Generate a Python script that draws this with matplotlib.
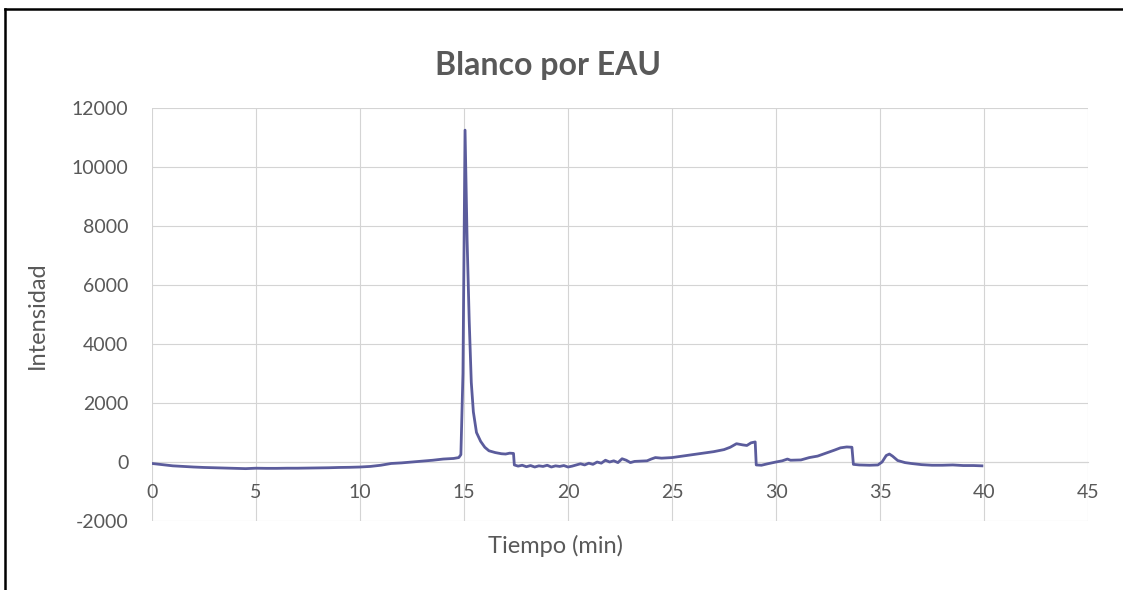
import matplotlib
matplotlib.use("Agg")
import matplotlib.pyplot as plt
from matplotlib.lines import Line2D

plt.rcParams['font.family'] = ['Lato', 'DejaVu Sans']

title = "Blanco por EAU"
x_label = "Tiempo (min)"
y_label = "Intensidad"
x_ticks = [0, 5, 10, 15, 20, 25, 30, 35, 40, 45]
y_ticks = [-2000, 0, 2000, 4000, 6000, 8000, 10000, 12000]

tiempo = [
    0.0, 0.5, 1.0, 1.5, 2.0, 2.5, 3.0, 3.5, 4.0, 4.5, 5.0, 5.5, 6.0, 6.5, 7.0,
    7.5, 8.0, 8.5, 9.0, 9.5, 10.0, 10.5, 11.0, 11.5, 12.0, 12.5, 13.0, 13.5,
    14.0, 14.5, 14.75, 14.85, 14.95, 15.05, 15.15, 15.25, 15.35, 15.45, 15.6,
    15.8, 16.0, 16.2, 16.5, 16.8, 17.0, 17.2, 17.38, 17.42, 17.6, 17.8, 18.0,
    18.2, 18.4, 18.6, 18.8, 19.0, 19.2, 19.4, 19.6, 19.8, 20.0, 20.2, 20.4,
    20.6, 20.8, 21.0, 21.2, 21.4, 21.6, 21.8, 22.0, 22.2, 22.4, 22.6, 22.8,
    23.0, 23.2, 23.5, 23.8, 24.0, 24.2, 24.5, 25.0, 25.5, 26.0, 26.5, 27.0,
    27.5, 27.8, 28.1, 28.4, 28.6, 28.8, 29.0, 29.05, 29.3, 29.6, 30.0, 30.3,
    30.55, 30.7, 31.2, 31.6, 32.0, 32.4, 32.8, 33.1, 33.4, 33.65, 33.72, 34.0,
    34.5, 34.9, 35.1, 35.3, 35.45, 35.6, 35.85, 36.2, 36.5, 37.0, 37.5, 38.0,
    38.5, 39.0, 39.5, 39.9,
]
intensidad = [
    -50, -90, -130, -150, -170, -185, -195, -205, -215, -225, -210, -215, -215,
    -210, -210, -205, -200, -195, -185, -180, -170, -150, -110, -50, -30, 0,
    30, 60, 100, 120, 150, 250, 3000, 11250, 7500, 4800, 2700, 1700, 1000,
    700, 500, 380, 320, 280, 270, 300, 290, -100, -140, -110, -160, -120,
    -170, -130, -150, -110, -170, -130, -150, -120, -170, -140, -100, -60,
    -100, -40, -80, 0, -40, 60, 0, 40, -20, 110, 60, -20, 20, 30, 40, 100,
    150, 130, 150, 200, 250, 300, 350, 420, 500, 620, 580, 560, 650, 680,
    -100, -110, -60, 0, 40, 100, 60, 70, 150, 200, 300, 400, 480, 510, 500,
    -80, -100, -110, -100, 0, 220, 270, 200, 50, -20, -50, -90, -110, -110,
    -100, -120, -120, -130,
]

text_color = '#595959'
grid_color = '#d4d4d4'
line_color = '#5b5c9c'

fig = plt.figure(figsize=(11.23, 5.90), dpi=100)
ax = fig.add_axes([152 / 1123, 1 - 521 / 590, (1088 - 152) / 1123, (521 - 108) / 590])

ax.plot(tiempo, intensidad, color=line_color, lw=2.0, solid_joinstyle='round', zorder=3)

ax.set_xlim(0, 45)
ax.set_ylim(-2000, 12000)
ax.set_xticks(x_ticks)
ax.set_yticks(y_ticks)
ax.set_xticklabels([str(v) for v in x_ticks])
ax.set_yticklabels([str(v) for v in y_ticks])
ax.grid(True, color=grid_color, lw=0.8, zorder=0)
ax.set_axisbelow(True)
ax.tick_params(axis='both', length=0, labelsize=14, labelcolor=text_color)
ax.tick_params(axis='x', pad=16)
ax.tick_params(axis='y', pad=17)

for s in ['top', 'right', 'left']:
    ax.spines[s].set_visible(False)
ax.spines['bottom'].set_position(('data', 0))
ax.spines['bottom'].set_color(grid_color)
ax.spines['bottom'].set_linewidth(0.8)

fig.text(548 / 1123, 1 - 65 / 590, title, ha='center', va='center',
         fontsize=23, fontweight='bold', color=text_color)
fig.text(37 / 1123, 1 - 315 / 590, y_label, ha='center', va='center',
         rotation=90, fontsize=17, color=text_color)
fig.text(556 / 1123, 1 - 546 / 590, x_label, ha='center', va='center',
         fontsize=17, color=text_color)

# chart frame (left and top edges visible)
fig.add_artist(Line2D([5 / 1123, 5 / 1123], [0, 1 - 9 / 590], transform=fig.transFigure,
                      color='black', lw=1.8))
fig.add_artist(Line2D([5 / 1123, 1], [1 - 9 / 590, 1 - 9 / 590], transform=fig.transFigure,
                      color='black', lw=1.8))

fig.savefig('out.png', dpi=100)
